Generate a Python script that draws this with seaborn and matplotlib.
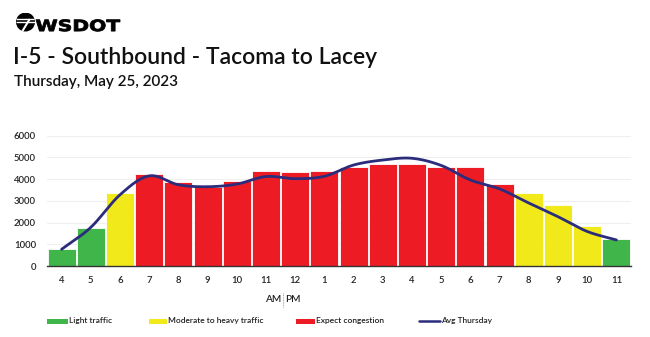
import numpy as np
import pandas as pd
import seaborn as sns
import matplotlib
matplotlib.use("Agg")
import matplotlib.pyplot as plt
from matplotlib.patches import Rectangle, Circle, PathPatch
from matplotlib.lines import Line2D
from matplotlib.textpath import TextPath
from matplotlib.font_manager import FontProperties
from matplotlib.transforms import Affine2D

# ---- data ----
hours = ["4", "5", "6", "7", "8", "9", "10", "11", "12", "1", "2", "3", "4", "5", "6", "7", "8", "9", "10", "11"]
volumes = [770, 1750, 3350, 4225, 3860, 3650, 3920, 4380, 4320, 4390, 4550, 4690, 4690, 4550, 4550, 3770, 3370, 2790, 1860, 1245]
levels = ["Light", "Light", "Moderate", "Congestion", "Congestion", "Congestion", "Congestion", "Congestion",
          "Congestion", "Congestion", "Congestion", "Congestion", "Congestion", "Congestion", "Congestion",
          "Congestion", "Moderate", "Moderate", "Moderate", "Light"]
avg_thursday = [770, 1780, 3280, 4150, 3740, 3650, 3770, 4120, 4020, 4130, 4650, 4880, 4960, 4630, 3960, 3550, 2900, 2270, 1590, 1200]
y_ticks = [0, 1000, 2000, 3000, 4000, 5000, 6000]
legend_labels = ["Light traffic", "Moderate to heavy traffic", "Expect congestion", "Avg Thursday"]

title = "I-5 - Southbound - Tacoma to Lacey"
subtitle = "Thursday, May 25, 2023"
logo_text = "WSDOT"

colors = {"Light": "#3fb54a", "Moderate": "#f2e91b", "Congestion": "#ed1c24"}
line_color = "#2b2c7c"

sns.set_theme(style="white")
plt.rcParams["font.family"] = ["Lato", "DejaVu Sans"]

W, H = 650, 337
fig = plt.figure(figsize=(W / 100, H / 100), dpi=100)
ax = fig.add_axes([47 / W, 1 - 266 / H, 584 / W, 130.3 / H])

df = pd.DataFrame({"pos": np.arange(len(hours)), "hour": hours, "volume": volumes, "level": levels})

sns.barplot(data=df, x="pos", y="volume", hue="level", palette=colors, dodge=False, saturation=1,
            width=0.96, edgecolor="white", linewidth=0.6, legend=False, ax=ax, zorder=2)

# smooth Avg line (Catmull-Rom through read points)
xs = np.arange(len(avg_thursday), dtype=float)
ys = np.array(avg_thursday, dtype=float)
px = np.concatenate([[xs[0] - (xs[1] - xs[0])], xs, [xs[-1] + (xs[-1] - xs[-2])]])
py = np.concatenate([[ys[0] - (ys[1] - ys[0])], ys, [ys[-1] + (ys[-1] - ys[-2])]])
sx, sy = [], []
for i in range(1, len(px) - 2):
    t = np.linspace(0, 1, 25, endpoint=False)
    p0, p1, p2, p3 = py[i - 1], py[i], py[i + 1], py[i + 2]
    seg = 0.5 * ((2 * p1) + (-p0 + p2) * t + (2 * p0 - 5 * p1 + 4 * p2 - p3) * t ** 2 + (-p0 + 3 * p1 - 3 * p2 + p3) * t ** 3)
    sx.extend(px[i] + t)
    sy.extend(seg)
sx.append(xs[-1]); sy.append(ys[-1])
sns.lineplot(x=sx, y=sy, color=line_color, linewidth=2, ax=ax, zorder=4, sort=False)

ax.set_xlim(-0.5, len(hours) - 0.5)
ax.set_ylim(0, 6000)
ax.set_yticks(y_ticks)
ax.set_yticklabels([str(v) for v in y_ticks], fontsize=6.8, color="#222222", fontweight="semibold")
ax.set_xticks(np.arange(len(hours)))
ax.set_xticklabels(hours, fontsize=6.8, color="#222222", fontweight="semibold")
ax.set_xticks(np.arange(len(hours) + 1) - 0.5, minor=True)
ax.tick_params(axis="x", which="major", length=0, pad=7)
ax.tick_params(axis="x", which="minor", length=4, width=0.6, color="#999999", direction="out")
ax.tick_params(axis="y", length=0, pad=8)
ax.set_xlabel("")
ax.set_ylabel("")
ax.grid(axis="y", color="#efefef", linewidth=0.8, zorder=0)
ax.set_axisbelow(True)
for s in ["top", "right", "left"]:
    ax.spines[s].set_visible(False)
ax.spines["bottom"].set_color("#333333")
ax.spines["bottom"].set_linewidth(1.0)
ax.spines["bottom"].set_zorder(5)

# AM | PM marker
fig.text(281 / W, 1 - 300 / H, "AM", ha="right", va="center", fontsize=7.2, color="#222222", fontweight="semibold")
fig.text(285 / W, 1 - 300 / H, "PM", ha="left", va="center", fontsize=7.2, color="#222222", fontweight="semibold")
fig.add_artist(Line2D([283 / W, 283 / W], [1 - 293 / H, 1 - 307 / H], color="#888888", linewidth=0.6,
                      linestyle=(0, (1, 1)), transform=fig.transFigure))

# legend (manual layout)
ly = 1 - 321 / H
items = [(47, 68, colors["Light"], "patch"), (149, 167, colors["Moderate"], "patch"),
         (296, 315, colors["Congestion"], "patch"), (419, 440, line_color, "line")]
for (x0, x1, c, kind), lab in zip(items, legend_labels):
    if kind == "patch":
        fig.add_artist(Rectangle((x0 / W, ly - 2.5 / H), (x1 - x0) / W, 5 / H, facecolor=c,
                                 edgecolor="none", transform=fig.transFigure))
    else:
        fig.add_artist(Line2D([x0 / W, x1 / W], [ly, ly], color=c, linewidth=1.8, transform=fig.transFigure))
    fig.text((x1 + 1) / W, ly, lab, ha="left", va="center", fontsize=6.0, color="#222222", fontweight="semibold")

# header: logo + titles
logo_ax = fig.add_axes([16 / W, 1 - 31.5 / H, 19 / W, 19 / H])
logo_ax.set_xlim(-1, 1); logo_ax.set_ylim(-1, 1); logo_ax.axis("off")
disc = Circle((0, 0), 1, facecolor="black", edgecolor="none")
logo_ax.add_patch(disc)
for yy in [0.32, 0.0]:
    ln, = logo_ax.plot([-1, 1], [yy, yy], color="white", linewidth=1.0, solid_capstyle="butt")
    ln.set_clip_path(disc)
ln, = logo_ax.plot([0.45, -0.35], [0.32, -1.0], color="white", linewidth=1.5, solid_capstyle="butt")
ln.set_clip_path(disc)

tp = TextPath((0, 0), logo_text, size=16, prop=FontProperties(family="DejaVu Sans", weight="bold"))
ext = tp.get_extents()
tr = (Affine2D().translate(-ext.x0, -ext.y0)
      .scale(84 / ext.width, 11.8 / ext.height)
      .translate(36, H - 31.3)
      .scale(1 / W, 1 / H))
fig.add_artist(PathPatch(tr.transform_path(tp), facecolor="black", edgecolor="black", linewidth=0.6,
                         transform=fig.transFigure))

fig.text(13 / W, 1 - 57 / H, title, ha="left", va="center", fontsize=16.5, color="#111111", fontweight="semibold")
fig.text(14 / W, 1 - 82 / H, subtitle, ha="left", va="center", fontsize=11, color="#111111", fontweight="semibold")

fig.savefig("out.png", dpi=100, facecolor="white")
